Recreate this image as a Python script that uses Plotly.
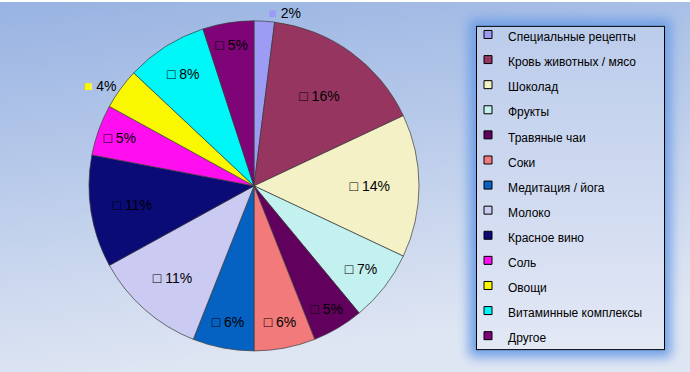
import base64
import plotly.graph_objects as go

# ---- data ----
categories = [
    "Специальные рецепты", "Кровь животных / мясо", "Шоколад", "Фрукты",
    "Травяные чаи", "Соки", "Медитация / йога", "Молоко", "Красное вино",
    "Соль", "Овощи", "Витаминные комплексы", "Другое",
]
values = [2, 16, 14, 7, 5, 6, 6, 11, 11, 5, 4, 8, 5]
colors = [
    "#9C9CF5", "#963660", "#F4F1C6", "#C2F1EF", "#62005E", "#F27A7A",
    "#0562C2", "#CACAF2", "#0B0B78", "#FF0EF0", "#FAF800", "#00F7F7", "#7E0478",
]

# ---- background (gradient + legend frame with glow) as an inline svg ----
W, H = 690, 372
svg = f"""<svg xmlns='http://www.w3.org/2000/svg' width='{W}' height='{H}' viewBox='0 0 {W} {H}'>
<defs>
<linearGradient id='bg' x1='0' y1='0' x2='0.25' y2='1'>
<stop offset='0' stop-color='#98B3E2'/>
<stop offset='1' stop-color='#DFE6F3'/>
</linearGradient>
<linearGradient id='lg' x1='0' y1='0' x2='0' y2='1'>
<stop offset='0' stop-color='#BBCCEB'/>
<stop offset='1' stop-color='#E3E8F5'/>
</linearGradient>
<filter id='blur' x='-20%' y='-20%' width='140%' height='140%'>
<feGaussianBlur stdDeviation='6'/>
</filter>
</defs>
<rect x='0' y='0' width='{W}' height='{H}' fill='url(#bg)'/>
<rect x='469' y='17' width='202' height='340' fill='#6F9FE6' filter='url(#blur)'/>
<rect x='476.5' y='24.5' width='188' height='325' fill='url(#lg)' stroke='black' stroke-width='1'/>
</svg>"""
bg_uri = "data:image/svg+xml;base64," + base64.b64encode(svg.encode("utf-8")).decode()

font_family = "Arial, 'Liberation Sans', sans-serif"

textpos = ["outside" if v < 5 else "inside" for v in values]
templates = []
for v, c, p in zip(values, colors, textpos):
    if p == "outside":
        templates.append(f"<span style='color:{c}'>■</span> %{{percent:.0%}}")
    else:
        templates.append("□ %{percent:.0%}")

fig = go.Figure()
fig.add_trace(go.Pie(
    labels=categories,
    values=values,
    sort=False,
    direction="clockwise",
    rotation=0,
    marker=dict(colors=colors, line=dict(color="#3A3A3A", width=0.7)),
    texttemplate=templates,
    textposition=textpos,
    textfont=dict(family=font_family, size=14, color="black"),
    insidetextorientation="horizontal",
    domain=dict(x=[0.1275, 0.6087], y=[0.057, 0.949]),
    hoverinfo="label+percent",
    showlegend=False,
))

# legend entries (small square keys) for each category
for name, c in zip(categories, colors):
    fig.add_trace(go.Scatter(
        x=[None], y=[None], mode="markers",
        name=f"<span style='font-size:12px'>{name}</span>",
        marker=dict(symbol="square", size=8, color=c, line=dict(color="black", width=1)),
        hoverinfo="skip", showlegend=True,
    ))

fig.update_layout(
    width=W, height=H,
    margin=dict(l=0, r=0, t=0, b=0),
    paper_bgcolor="rgba(0,0,0,0)",
    plot_bgcolor="rgba(0,0,0,0)",
    font=dict(family=font_family, color="black"),
    uniformtext=dict(minsize=14, mode="show"),
    xaxis=dict(visible=False),
    yaxis=dict(visible=False),
    showlegend=True,
    legend=dict(
        x=468 / W, y=1 - 15 / H, xanchor="left", yanchor="top",
        bgcolor="rgba(0,0,0,0)", borderwidth=0,
        font=dict(family=font_family, size=17, color="black"),
        traceorder="normal",
    ),
    images=[dict(source=bg_uri, xref="paper", yref="paper", x=0, y=1,
                 sizex=1, sizey=1, sizing="stretch", layer="below")],
)

fig.write_html("out.html", config={"displayModeBar": False},
               post_script="document.body.style.margin='0';")
